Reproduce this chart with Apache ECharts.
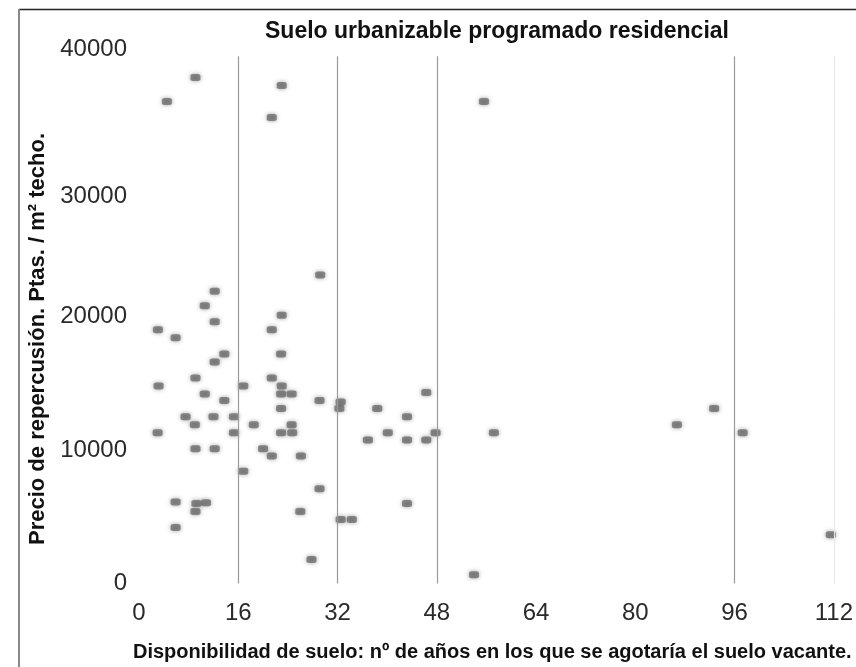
<!DOCTYPE html>
<html>
<head>
<meta charset="utf-8">
<script src="https://cdn.jsdelivr.net/npm/echarts@6/dist/echarts.min.js"></script>
<style>html,body{margin:0;padding:0;background:#fff;}#c{width:856px;height:667px;}</style>
</head>
<body>
<div id="c"></div>
<script>
// Años de disponibilidad de suelo (eje X)
const years = [4.5, 9.1, 23.0, 21.4, 55.6, 29.2, 12.2, 10.6, 12.2, 23.0,
  3.05, 21.4, 5.9, 13.75, 22.9, 12.2, 9.1, 21.4, 3.15, 16.8,
  23.0, 10.6, 22.9, 24.6, 46.3, 13.75, 29.1, 32.5, 22.9, 32.3,
  38.4, 92.7, 7.5, 12.0, 15.3, 43.2, 9.0, 18.5, 24.6, 86.7,
  3.0, 15.3, 22.9, 24.7, 40.1, 47.8, 57.2, 97.3, 36.9, 43.2,
  46.3, 9.1, 12.2, 20.0, 21.4, 26.1, 16.8, 29.1, 5.9, 9.25,
  10.8, 43.2, 9.1, 26.0, 32.5, 34.3, 5.9, 27.8, 54.0, 111.5];
// Precio de repercusión, Ptas./m² techo (eje Y)
const prices = [36100, 37900, 37300, 34900, 36100, 23100, 21900, 20800, 19600, 20100,
  19000, 19000, 18400, 17200, 17200, 16600, 15400, 15400, 14800, 14800,
  14800, 14200, 14200, 14200, 14300, 13700, 13700, 13600, 13100, 13100,
  13100, 13100, 12500, 12500, 12500, 12500, 11900, 11900, 11900, 11900,
  11300, 11300, 11300, 11300, 11300, 11300, 11300, 11300, 10750, 10750,
  10750, 10100, 10100, 10100, 9550, 9550, 8400, 7100, 6100, 6000,
  6050, 6000, 5400, 5400, 4800, 4800, 4200, 1800, 660, 3650];
const xTicks = [0, 16, 32, 48, 64, 80, 96, 112];
const yTicks = [0, 10000, 20000, 30000, 40000];
const gridYears = [16, 32, 48, 96];
const faintGridYears = [112];
const gridTop = 39500;

const titleText = 'Suelo urbanizable programado residencial';
const xName = 'Disponibilidad de suelo: nº de años en los que se agotaría el suelo vacante.';
const yName = 'Precio de repercusión. Ptas. / m² techo.';

const points = years.map((x, i) => [x, prices[i]]);
const lineData = gridYears.map(v => [{coord: [v, 0]}, {coord: [v, gridTop]}]);
const faintData = faintGridYears.map(v => [{coord: [v, 0]}, {coord: [v, gridTop]}]);

const chart = echarts.init(document.getElementById('c'), null, {renderer: 'canvas'});
const labelFont = "'Liberation Sans', Arial, sans-serif";
chart.setOption({
  animation: false,
  backgroundColor: '#ffffff',
  title: {
    text: titleText,
    left: 492,
    top: 15,
    textAlign: 'center',
    textStyle: {fontFamily: labelFont, fontWeight: 'bold', fontSize: 23, color: '#111'}
  },
  grid: {left: 139, right: 13, top: 49.5, bottom: 83.5, containLabel: false},
  xAxis: {
    type: 'value', min: xTicks[0], max: xTicks[xTicks.length - 1], interval: 16,
    axisLine: {show: false}, axisTick: {show: false}, splitLine: {show: false},
    axisLabel: {fontFamily: labelFont, fontSize: 24, color: '#2a2a2a', margin: 18,
      formatter: v => String(v)}
  },
  yAxis: {
    type: 'value', min: yTicks[0], max: yTicks[yTicks.length - 1], interval: 10000,
    axisLine: {show: false}, axisTick: {show: false}, splitLine: {show: false},
    axisLabel: {fontFamily: labelFont, fontSize: 24, color: '#2a2a2a', margin: 12,
      formatter: v => (v === 30000 ? '{s|' + v + '}' : String(v)),
      rich: {s: {fontFamily: labelFont, fontSize: 24, color: '#2a2a2a', padding: [26, 0, 0, 0]}}}
  },
  graphic: [
    {type: 'line', shape: {x1: 19, y1: 9.5, x2: 856, y2: 9.5}, style: {stroke: '#222', lineWidth: 1.5}},
    {type: 'line', shape: {x1: 19, y1: 9, x2: 19, y2: 667}, style: {stroke: '#888', lineWidth: 2}},
    {type: 'text', x: 38, y: 339, rotation: Math.PI / 2,
      style: {text: yName, textAlign: 'center', textVerticalAlign: 'middle',
        font: "bold 22px 'Liberation Sans', Arial, sans-serif", fill: '#111'}},
    {type: 'text', x: 133, y: 652,
      style: {text: xName, textAlign: 'left', textVerticalAlign: 'middle',
        font: "bold 20px 'Liberation Sans', Arial, sans-serif", fill: '#111'}}
  ],
  series: [{
    type: 'scatter',
    data: points,
    symbol: 'roundRect',
    symbolSize: [10, 7],
    itemStyle: {color: 'rgba(95,95,95,0.85)', shadowBlur: 4, shadowColor: 'rgba(90,90,90,0.8)'},
    markLine: {
      silent: true, symbol: ['none', 'none'], label: {show: false},
      lineStyle: {color: '#9a9a9a', width: 1.2, type: 'solid'},
      data: lineData
    }
  }, {
    type: 'scatter', data: [],
    markLine: {
      silent: true, symbol: ['none', 'none'], label: {show: false},
      lineStyle: {color: '#e6e6e6', width: 1, type: 'solid'},
      data: faintData
    }
  }]
});
</script>
</body>
</html>
